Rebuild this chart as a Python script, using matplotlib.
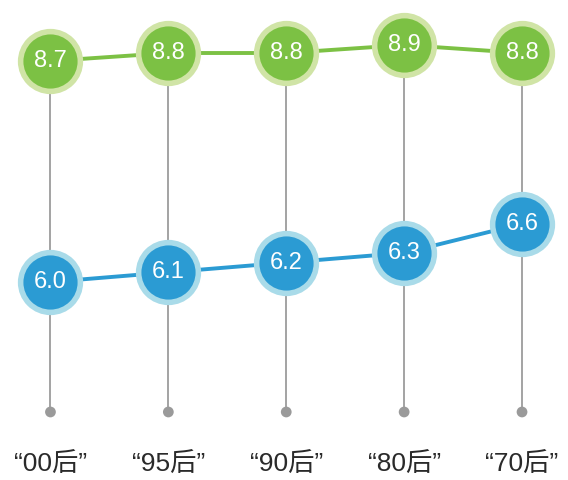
import matplotlib.pyplot as plt
from matplotlib.transforms import blended_transform_factory

plt.rcParams['font.family'] = ['Liberation Sans', 'Noto Sans CJK SC', 'DejaVu Sans']

labels = ["“00后”", "“95后”", "“90后”", "“80后”", "“70后”"]
green_vals = [8.7, 8.8, 8.8, 8.9, 8.8]
blue_vals = [6.0, 6.1, 6.2, 6.3, 6.6]

GREEN = "#7cc144"
GREEN_RING = "#d0e4a6"
BLUE = "#2b9bd3"
BLUE_RING = "#a9dbe9"
GRAY = "#a3a3a3"

x = list(range(len(labels)))

fig = plt.figure(figsize=(5.68, 4.8), dpi=100)
ax_top = fig.add_axes([0, 0.7083, 1, 0.2917])
ax_bot = fig.add_axes([0, 0.1417, 1, 0.5667])

for ax in (ax_top, ax_bot):
    ax.set_xlim(-0.428, 4.39)
    ax.axis("off")

ax_top.set_ylim(7.7125, 9.4625)
ax_bot.set_ylim(4.660, 7.464)

# gray stems from the green circles down to the dots
ax_top.vlines(x, 7.7125, green_vals, color=GRAY, lw=1.4, zorder=1)
ax_bot.vlines(x, 4.660, 7.464, color=GRAY, lw=1.4, zorder=1)
trans = blended_transform_factory(ax_bot.transData, ax_bot.transAxes)
ax_bot.scatter(x, [0] * len(x), s=60, color="#9a9a9a", transform=trans,
               clip_on=False, zorder=2, edgecolors="none")

def draw_series(ax, vals, color, ring):
    ax.plot(x, vals, color=color, lw=2.8, zorder=2, solid_capstyle="round")
    ax.plot(x, vals, "o", ms=47, color=ring, mec="none", zorder=3)
    ax.plot(x, vals, "o", ms=39, color=color, mec="none", zorder=4)
    for xi, v in zip(x, vals):
        ax.text(xi, v, f"{v:.1f}", ha="center", va="center", color="white",
                fontsize=17, family=["Liberation Sans", "DejaVu Sans"],
                zorder=5)

draw_series(ax_top, green_vals, GREEN, GREEN_RING)
draw_series(ax_bot, blue_vals, BLUE, BLUE_RING)

for xi, lab in zip(x, labels):
    ax_bot.text(xi, -0.19, lab, transform=trans, ha="center", va="center",
                fontsize=19, color="#2a2a2a", clip_on=False)

fig.savefig("out.png", dpi=100, facecolor="white")
